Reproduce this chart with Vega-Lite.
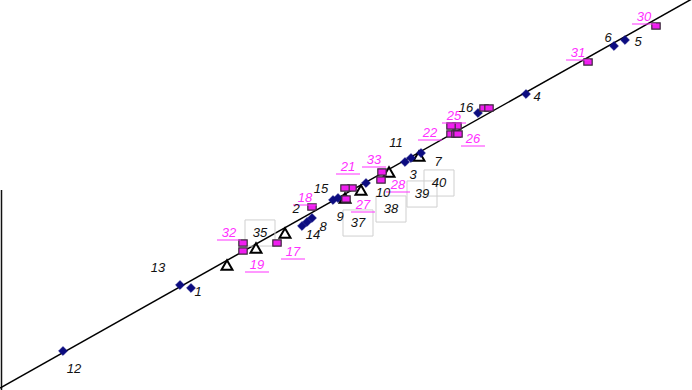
{
  "$schema": "https://vega.github.io/schema/vega-lite/v6.json",
  "width": 692,
  "height": 390,
  "padding": 0,
  "autosize": "none",
  "background": "white",
  "config": {"view": {"stroke": null}},
  "datasets": {
    "pts": [
      {"id": "1", "type": "d", "x": 19.1, "y": 10.2, "lx": 19.8, "ly": 9.8},
      {"id": "2", "type": "d", "x": 31.2, "y": 17.2, "lx": 29.6, "ly": 18.1},
      {"id": "3", "type": "d", "x": 40.5, "y": 22.8, "lx": 41.3, "ly": 21.5},
      {"id": "4", "type": "d", "x": 52.6, "y": 29.6, "lx": 53.7, "ly": 29.3},
      {"id": "5", "type": "d", "x": 62.5, "y": 35.0, "lx": 63.8, "ly": 34.8},
      {"id": "6", "type": "d", "x": 61.4, "y": 34.4, "lx": 60.8, "ly": 35.2},
      {"id": "7", "type": "d", "x": 42.1, "y": 23.7, "lx": 43.8, "ly": 22.8},
      {"id": "8", "type": "d", "x": 30.7, "y": 16.8, "lx": 32.3, "ly": 16.3},
      {"id": "9", "type": "d", "x": 33.3, "y": 19.0, "lx": 34.0, "ly": 17.3},
      {"id": "10", "type": "d", "x": 36.6, "y": 20.7, "lx": 38.3, "ly": 19.7},
      {"id": "11", "type": "d", "x": 41.1, "y": 23.2, "lx": 39.6, "ly": 24.7},
      {"id": "12", "type": "d", "x": 6.3, "y": 3.9, "lx": 7.4, "ly": 2.1},
      {"id": "13", "type": "d", "x": 18.0, "y": 10.5, "lx": 15.8, "ly": 12.2},
      {"id": "14", "type": "d", "x": 30.2, "y": 16.4, "lx": 31.3, "ly": 15.5},
      {"id": "15", "type": "d", "x": 33.8, "y": 19.2, "lx": 32.1, "ly": 20.1},
      {"id": "16", "type": "d", "x": 47.8, "y": 27.7, "lx": 46.6, "ly": 28.2},
      {"id": "17", "type": "s", "x": 27.7, "y": 14.7, "lx": 29.3, "ly": 13.8},
      {"id": "18", "type": "s", "x": 31.2, "y": 18.3, "lx": 30.5, "ly": 19.2},
      {"id": "19", "type": "s", "x": 24.3, "y": 13.9, "lx": 25.7, "ly": 12.5},
      {"id": "20", "type": "s", "x": 35.2, "y": 20.2, "lx": null, "ly": null},
      {"id": "21", "type": "s", "x": 34.5, "y": 20.2, "lx": 34.8, "ly": 22.3},
      {"id": "22", "type": "s", "x": 45.1, "y": 25.6, "lx": 43.0, "ly": 25.7},
      {"id": "23", "type": "s", "x": 45.6, "y": 25.6, "lx": null, "ly": null},
      {"id": "24", "type": "s", "x": 45.7, "y": 26.4, "lx": null, "ly": null},
      {"id": "25", "type": "s", "x": 45.1, "y": 26.4, "lx": 45.4, "ly": 27.4},
      {"id": "26", "type": "s", "x": 45.8, "y": 25.6, "lx": 47.3, "ly": 25.1},
      {"id": "27", "type": "s", "x": 34.6, "y": 19.1, "lx": 36.3, "ly": 18.5},
      {"id": "28", "type": "s", "x": 38.1, "y": 21.0, "lx": 39.8, "ly": 20.5},
      {"id": "29", "type": "s", "x": 48.4, "y": 28.2, "lx": null, "ly": null},
      {"id": "29b", "type": "s", "x": 48.9, "y": 28.2, "lx": null, "ly": null},
      {"id": "30", "type": "s", "x": 65.6, "y": 36.4, "lx": 64.4, "ly": 37.3},
      {"id": "31", "type": "s", "x": 58.8, "y": 32.8, "lx": 57.8, "ly": 33.7},
      {"id": "32", "type": "s", "x": 24.3, "y": 14.7, "lx": 22.9, "ly": 15.7},
      {"id": "33", "type": "s", "x": 38.2, "y": 21.8, "lx": 37.4, "ly": 23.0},
      {"id": "34", "type": "t", "x": 22.7, "y": 12.5, "lx": null, "ly": null},
      {"id": "35", "type": "t", "x": 25.6, "y": 14.2, "lx": 26.0, "ly": 15.7},
      {"id": "36", "type": "t", "x": 28.5, "y": 15.7, "lx": null, "ly": null},
      {"id": "37", "type": "t", "x": 34.5, "y": 19.2, "lx": 35.8, "ly": 16.7},
      {"id": "38", "type": "t", "x": 36.1, "y": 20.0, "lx": 39.1, "ly": 18.1},
      {"id": "39", "type": "t", "x": 38.9, "y": 21.8, "lx": 42.2, "ly": 19.6},
      {"id": "40", "type": "t", "x": 41.9, "y": 23.4, "lx": 43.9, "ly": 20.7}
    ],
    "fit": [
      {"x": 0, "y": 0.2},
      {"x": 69.2, "y": 39.11}
    ],
    "edge": [
      {"x": 0.15, "y": 0, "y2": 20}
    ]
  },
  "layer": [
    {
      "data": {"name": "edge"},
      "mark": {"type": "rule", "color": "#111", "strokeWidth": 1.5},
      "encoding": {
        "x": {"field": "x", "type": "quantitative", "scale": {"domain": [0, 69.2], "nice": false, "zero": false}, "axis": null},
        "y": {"field": "y", "type": "quantitative", "scale": {"domain": [0, 39], "nice": false, "zero": false}, "axis": null},
        "y2": {"field": "y2"}
      }
    },
    {
      "data": {"name": "fit"},
      "mark": {"type": "line", "color": "black", "strokeWidth": 1.5, "clip": true},
      "encoding": {
        "x": {"field": "x", "type": "quantitative", "scale": {"domain": [0, 69.2], "nice": false, "zero": false}, "axis": null},
        "y": {"field": "y", "type": "quantitative", "scale": {"domain": [0, 39], "nice": false, "zero": false}, "axis": null}
      }
    },
    {
      "data": {"name": "pts"},
      "transform": [{"filter": "datum.type === 't' && datum.lx != null"}],
      "mark": {"type": "point", "shape": "M-1,-0.87L1,-0.87L1,0.87L-1,0.87Z", "size": 900, "filled": false, "stroke": "#cfcfcf", "strokeWidth": 1, "opacity": 1},
      "encoding": {
        "x": {"field": "lx", "type": "quantitative", "scale": {"domain": [0, 69.2], "nice": false, "zero": false}, "axis": null},
        "y": {"field": "ly", "type": "quantitative", "scale": {"domain": [0, 39], "nice": false, "zero": false}, "axis": null}
      }
    },
    {
      "data": {"name": "pts"},
      "transform": [{"filter": "datum.type === 't'"}],
      "mark": {"type": "point", "shape": "triangle-up", "size": 120, "filled": true, "fill": "white", "stroke": "black", "strokeWidth": 2, "opacity": 1},
      "encoding": {
        "x": {"field": "x", "type": "quantitative", "scale": {"domain": [0, 69.2], "nice": false, "zero": false}, "axis": null},
        "y": {"field": "y", "type": "quantitative", "scale": {"domain": [0, 39], "nice": false, "zero": false}, "axis": null}
      }
    },
    {
      "data": {"name": "pts"},
      "transform": [{"filter": "datum.type === 'd'"}],
      "mark": {"type": "point", "shape": "diamond", "size": 80, "filled": true, "fill": "#0c0c80", "stroke": "#0c0c80", "strokeWidth": 0.5, "opacity": 1},
      "encoding": {
        "x": {"field": "x", "type": "quantitative", "scale": {"domain": [0, 69.2], "nice": false, "zero": false}, "axis": null},
        "y": {"field": "y", "type": "quantitative", "scale": {"domain": [0, 39], "nice": false, "zero": false}, "axis": null}
      }
    },
    {
      "data": {"name": "pts"},
      "transform": [{"filter": "datum.type === 's'"}],
      "mark": {"type": "point", "shape": "M-1,-0.75L1,-0.75L1,0.75L-1,0.75Z", "size": 70, "filled": true, "fill": "#f01ef0", "stroke": "#3a2a3a", "strokeWidth": 1.2, "opacity": 1},
      "encoding": {
        "x": {"field": "x", "type": "quantitative", "scale": {"domain": [0, 69.2], "nice": false, "zero": false}, "axis": null},
        "y": {"field": "y", "type": "quantitative", "scale": {"domain": [0, 39], "nice": false, "zero": false}, "axis": null}
      }
    },
    {
      "data": {"name": "pts"},
      "transform": [{"filter": "datum.type === 's' && datum.lx != null"}],
      "mark": {"type": "tick", "orient": "horizontal", "size": 24, "thickness": 1, "color": "#ff30ff", "yOffset": 7, "opacity": 1},
      "encoding": {
        "x": {"field": "lx", "type": "quantitative", "scale": {"domain": [0, 69.2], "nice": false, "zero": false}, "axis": null},
        "y": {"field": "ly", "type": "quantitative", "scale": {"domain": [0, 39], "nice": false, "zero": false}, "axis": null}
      }
    },
    {
      "data": {"name": "pts"},
      "transform": [{"filter": "datum.type === 's' && datum.lx != null"}],
      "mark": {"type": "text", "font": "Liberation Sans", "fontStyle": "italic", "fontSize": 13, "color": "#ff30ff", "align": "center", "baseline": "middle"},
      "encoding": {
        "x": {"field": "lx", "type": "quantitative", "scale": {"domain": [0, 69.2], "nice": false, "zero": false}, "axis": null},
        "y": {"field": "ly", "type": "quantitative", "scale": {"domain": [0, 39], "nice": false, "zero": false}, "axis": null},
        "text": {"field": "id"}
      }
    },
    {
      "data": {"name": "pts"},
      "transform": [{"filter": "datum.type !== 's' && datum.lx != null"}],
      "mark": {"type": "text", "font": "Liberation Sans", "fontStyle": "italic", "fontSize": 13, "color": "#111", "align": "center", "baseline": "middle"},
      "encoding": {
        "x": {"field": "lx", "type": "quantitative", "scale": {"domain": [0, 69.2], "nice": false, "zero": false}, "axis": null},
        "y": {"field": "ly", "type": "quantitative", "scale": {"domain": [0, 39], "nice": false, "zero": false}, "axis": null},
        "text": {"field": "id"}
      }
    }
  ]
}
